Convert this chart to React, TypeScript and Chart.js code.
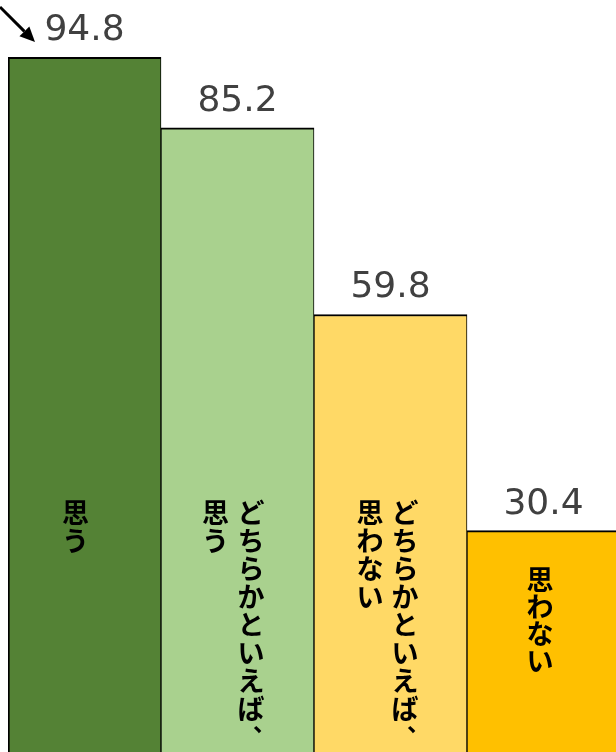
import React, { useEffect, useRef } from "react";
import { Chart, registerables } from "chart.js";

Chart.register(...registerables);

const categories = ["思う", "どちらかといえば、思う", "どちらかといえば、思わない", "思わない"];
const values = [94.8, 85.2, 59.8, 30.4];
// inner label columns, listed right-to-left (vertical writing)
const labelColumns = [
  ["思う"],
  ["どちらかといえば、", "思う"],
  ["どちらかといえば、", "思わない"],
  ["思わない"],
];
const barColors = ["#548235", "#A9D18E", "#FFD966", "#FFC000"];

// layout of the vertical labels relative to each bar's centre
const labelLayout = [
  { dx: [-9], top: 499 },
  { dx: [13.5, -22], top: 499 },
  { dx: [14.5, -20.5], top: 499 },
  { dx: [-3.5], top: 566 },
];

const labelPlugin = {
  id: "labels",
  afterDatasetsDraw(chart: any) {
    const ctx = chart.ctx;
    const meta = chart.getDatasetMeta(0);
    ctx.save();
    meta.data.forEach((bar: any, i: number) => {
      // value label
      ctx.fillStyle = "#404040";
      ctx.font = '36px "DejaVu Sans"';
      ctx.textAlign = "center";
      ctx.textBaseline = "alphabetic";
      ctx.fillText(values[i].toFixed(1), bar.x, bar.y - 17);
      // vertical category label
      ctx.fillStyle = "#000000";
      ctx.textBaseline = "middle";
      const lay = labelLayout[i];
      const adv = i === 3 ? 27 : 28;
      labelColumns[i].forEach((col, c) => {
        const cx = bar.x + lay.dx[c];
        Array.from(col).forEach((ch, k) => {
          const cy = lay.top + 13.5 + k * adv;
          if (ch === "、") {
            ctx.font = 'bold 23px "Noto Sans CJK JP"';
            const m = ctx.measureText(ch);
            const inkX = (m.actualBoundingBoxRight - m.actualBoundingBoxLeft) / 2;
            const inkY = (m.actualBoundingBoxDescent - m.actualBoundingBoxAscent) / 2;
            ctx.fillText(ch, cx + 6.5 - inkX, cy - 7 - inkY);
          } else {
            ctx.font = 'bold 27px "Noto Sans CJK JP"';
            ctx.fillText(ch, cx, cy);
          }
        });
      });
    });
    // arrow
    ctx.strokeStyle = "#000";
    ctx.fillStyle = "#000";
    ctx.lineWidth = 3;
    const x0 = 0, y0 = 7, x1 = 35, y1 = 42;
    const ang = Math.atan2(y1 - y0, x1 - x0);
    const hl = 15, hw = 7;
    const bx = x1 - hl * Math.cos(ang), by = y1 - hl * Math.sin(ang);
    ctx.beginPath();
    ctx.moveTo(x0, y0);
    ctx.lineTo(bx, by);
    ctx.stroke();
    ctx.beginPath();
    ctx.moveTo(x1, y1);
    ctx.lineTo(bx + hw * Math.sin(ang), by - hw * Math.cos(ang));
    ctx.lineTo(bx - hw * Math.sin(ang), by + hw * Math.cos(ang));
    ctx.closePath();
    ctx.fill();
    ctx.restore();
  },
};

export default function App() {
  const ref = useRef<HTMLCanvasElement>(null);
  useEffect(() => {
    if (!ref.current) return;
    const chart = new Chart(ref.current, {
      type: "bar",
      data: {
        labels: categories,
        datasets: [
          {
            data: values,
            backgroundColor: barColors,
            borderColor: "#000000",
            borderWidth: (c: any) =>
              ({ top: 2, left: c.dataIndex === 0 ? 2 : 1, right: 1, bottom: 0 }) as any,
            barPercentage: 1,
            categoryPercentage: 1,
          },
        ],
      },
      options: {
        responsive: false,
        animation: false,
        devicePixelRatio: 1,
        layout: { padding: { left: 8, right: 20, top: 19, bottom: 16 } },
        plugins: { legend: { display: false }, tooltip: { enabled: false } },
        scales: {
          x: { display: false, grid: { display: false } },
          y: { display: false, min: 0, max: 100, grid: { display: false } },
        },
      },
      plugins: [labelPlugin],
    });
    return () => chart.destroy();
  }, []);
  return (
    <div
      style={{
        position: "fixed",
        left: 0,
        top: 0,
        width: 616,
        height: 752,
        overflow: "hidden",
        background: "#fff",
      }}
    >
      <canvas ref={ref} width={640} height={770} style={{ width: 640, height: 770, display: "block" }} />
    </div>
  );
}
